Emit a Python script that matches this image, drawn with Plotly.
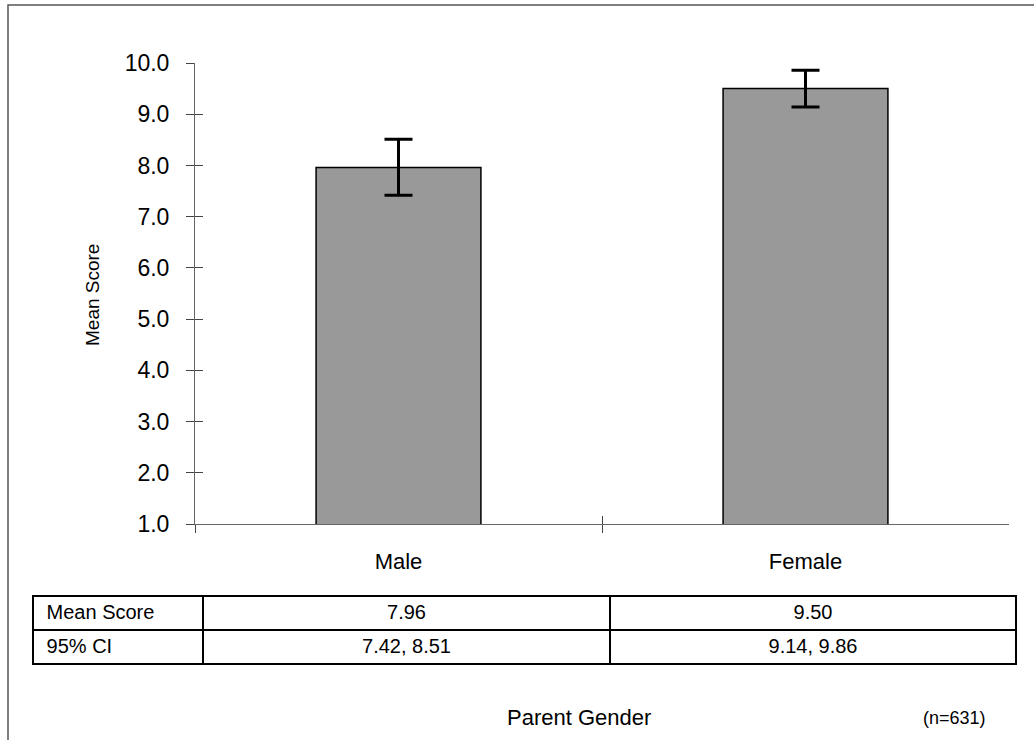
import plotly.graph_objects as go

categories = ["Male", "Female"]
mean_scores = [7.96, 9.50]
ci_low = [7.42, 9.14]
ci_high = [8.51, 9.86]
row_labels = ["Mean Score", "95% CI"]
y_ticks = [1.0, 2.0, 3.0, 4.0, 5.0, 6.0, 7.0, 8.0, 9.0, 10.0]
x_title = "Parent Gender"
y_title = "Mean Score"
n_note = "(n=631)"

W, H = 1034, 740
FONT = "Arial, Liberation Sans, sans-serif"

def px(x):
    return x / W

def py(y):
    return 1 - y / H

err_plus = [h - m for h, m in zip(ci_high, mean_scores)]
err_minus = [m - l for m, l in zip(mean_scores, ci_low)]

fig = go.Figure()
fig.add_trace(go.Bar(
    x=categories, y=mean_scores, width=0.405,
    marker=dict(color="#999999", line=dict(color="black", width=1.5)),
    error_y=dict(type="data", array=err_plus, arrayminus=err_minus,
                 color="black", thickness=3, width=14),
    showlegend=False, hoverinfo="skip",
))
# dummy trace for the overlay axes (inner tick marks)
fig.add_trace(go.Scatter(x=[None], y=[None], xaxis="x2", yaxis="y2",
                         showlegend=False, hoverinfo="skip"))

# table
col_male = [f"{mean_scores[0]:.2f}", f"{ci_low[0]:.2f}, {ci_high[0]:.2f}"]
col_female = [f"{mean_scores[1]:.2f}", f"{ci_low[1]:.2f}, {ci_high[1]:.2f}"]
lab = ["\u00a0" + r for r in row_labels]
fig.add_trace(go.Table(
    domain=dict(x=[px(33), px(1016)], y=[py(668), py(596)]),
    columnwidth=[170, 407, 406],
    header=dict(values=[lab[0], col_male[0], col_female[0]],
                align=["left", "center", "center"],
                line=dict(color="black", width=2), fill=dict(color="white"),
                font=dict(family=FONT, size=20, color="black"), height=34),
    cells=dict(values=[[lab[1]], [col_male[1]], [col_female[1]]],
               align=["left", "center", "center"],
               line=dict(color="black", width=2), fill=dict(color="white"),
               font=dict(family=FONT, size=20, color="black"), height=34),
))

xdom = [px(195), px(1009)]
ydom = [py(524), py(63)]
fig.update_layout(
    width=W, height=H, margin=dict(l=0, r=0, t=0, b=0, pad=0, autoexpand=False),
    paper_bgcolor="white", plot_bgcolor="white",
    font=dict(family=FONT, color="black"),
    xaxis=dict(domain=xdom, type="category", range=[-0.5, 1.5],
               tickson="boundaries", ticks="outside", ticklen=8, tickcolor="#444",
               showline=True, linecolor="#666", linewidth=1, showgrid=False,
               ticklabelstandoff=18,
               tickfont=dict(size=22, family=FONT, color="black"), anchor="y"),
    yaxis=dict(domain=ydom, range=[1, 10], tickvals=y_ticks, tickformat=".1f",
               ticks="outside", ticklen=8, tickcolor="#444", showline=True,
               linecolor="#666", linewidth=1, showgrid=False, zeroline=False,
               ticklabelstandoff=12,
               tickfont=dict(size=23, family=FONT, color="black"), anchor="x"),
    xaxis2=dict(domain=xdom, overlaying="x", anchor="y", range=[-0.5, 1.5],
                tickvals=[-0.5, 0.5, 1.5], ticks="inside", ticklen=8, tickcolor="#444",
                showticklabels=False, showgrid=False, zeroline=False, showline=False,
                side="bottom"),
    yaxis2=dict(domain=ydom, overlaying="y", anchor="x", range=[1, 10],
                tickvals=y_ticks, ticks="inside", ticklen=8, tickcolor="#444",
                showticklabels=False, showgrid=False, zeroline=False, showline=False,
                side="left"),
    shapes=[dict(type="rect", xref="paper", yref="paper",
                 x0=px(8), y0=-0.1, x1=1.1, y1=py(5),
                 line=dict(color="#555", width=1.5), layer="below")],
    annotations=[
        dict(text=y_title, xref="paper", yref="paper", x=px(92), y=py(295),
             xanchor="center", yanchor="middle",
             textangle=-90, showarrow=False, font=dict(size=19, family=FONT, color="black")),
        dict(text=x_title, xref="paper", yref="paper", x=px(579), y=py(717),
             xanchor="center", yanchor="middle",
             showarrow=False, font=dict(size=22, family=FONT, color="black")),
        dict(text=n_note, xref="paper", yref="paper", x=px(954), y=py(718),
             xanchor="center", yanchor="middle",
             showarrow=False, font=dict(size=18, family=FONT, color="black")),
    ],
)

fig.write_html("out.html", config={"displayModeBar": False},
               post_script="document.body.style.margin='0';")
